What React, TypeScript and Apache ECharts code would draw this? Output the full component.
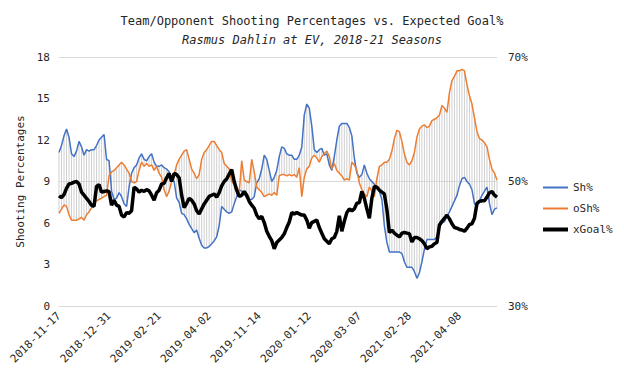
import React, { useEffect, useRef } from "react";
import * as echarts from "echarts";

const tickLabels = [
  "2018-11-17", "2018-12-31", "2019-02-21", "2019-04-02", "2019-11-14",
  "2020-01-12", "2020-03-07", "2021-02-28", "2021-04-08",
];
const labelEvery = 20;

const shPct = [
  11.1, 11.6, 12.3, 12.8, 12.2, 11.0, 10.8, 11.2, 11.9, 11.5,
  10.9, 11.3, 11.2, 11.3, 11.3, 11.6, 12.0, 12.2, 12.4, 10.6,
  10.5, 8.3, 7.7, 7.8, 8.2, 7.9, 7.4, 7.2, 8.6, 9.6,
  10.0, 10.2, 10.7, 11.0, 10.6, 10.5, 10.8, 11.0, 10.4, 10.1,
  10.1, 10.2, 10.0, 9.9, 9.7, 9.2, 9.0, 7.8, 7.5, 6.7,
  6.6, 6.3, 5.9, 5.6, 5.3, 5.5, 4.9, 4.4, 4.2, 4.2,
  4.3, 4.5, 4.7, 5.0, 5.8, 7.2, 7.0, 6.8, 6.7, 6.8,
  7.4, 7.9, 8.4, 8.3, 8.1, 7.8, 7.7, 7.7, 7.9, 8.9,
  9.2, 9.9, 10.9, 10.6, 9.8, 9.0, 9.3, 9.8, 10.8, 11.5,
  11.4, 11.0, 10.9, 10.9, 10.6, 10.6, 10.9, 11.5, 13.8, 14.6,
  14.3, 13.0, 11.3, 11.1, 11.3, 11.4, 10.9, 11.0, 10.2, 9.8,
  10.8, 12.0, 13.0, 13.2, 13.2, 13.2, 12.9, 12.3, 10.7, 9.6,
  9.3, 9.5, 10.2, 9.6, 9.2, 9.0, 8.8, 8.6, 8.3, 7.7,
  5.8, 4.6, 3.9, 3.9, 3.9, 3.9, 3.9, 3.8, 3.2, 2.8,
  2.8, 2.8, 2.5, 2.0, 2.4, 3.2, 4.1, 4.8, 4.8, 4.8,
  4.8, 5.0, 5.7, 6.0, 6.1, 6.5, 6.8, 7.2, 7.6, 8.0,
  8.7, 9.2, 9.3, 9.0, 8.8, 8.4, 7.4, 7.2, 7.6, 8.0,
  8.3, 8.6, 7.4, 6.6, 7.0, 7.1,
];

const oShPct = [
  6.7, 7.0, 7.3, 7.2, 6.6, 6.2, 6.2, 6.2, 6.3, 6.4,
  6.2, 6.6, 6.8, 7.1, 7.4, 7.6, 7.7, 7.8, 7.9, 8.0,
  9.4, 9.7, 9.8, 10.0, 10.2, 10.4, 10.2, 9.9, 9.6, 9.0,
  8.9, 9.0, 9.8, 10.4, 10.1, 10.3, 10.1, 10.2, 9.8, 10.1,
  9.6, 9.3, 8.4, 7.9, 8.3, 9.0, 9.5, 10.2, 10.6, 10.9,
  11.2, 11.3, 10.6, 9.9, 9.6, 9.2, 9.5, 10.6, 11.1, 11.3,
  11.6, 11.9, 11.9, 11.6, 11.3, 11.1, 10.3, 10.1, 9.9, 9.0,
  8.8, 8.6, 8.2, 10.5, 9.1, 9.0, 8.9, 10.6, 9.7, 8.6,
  8.4, 8.2, 7.9, 8.0, 8.1, 8.0, 8.2, 8.0, 9.4, 9.5,
  9.5, 9.4, 9.5, 9.4, 9.5, 9.3, 10.0, 7.9, 9.3, 9.9,
  10.1, 10.7, 10.9, 10.7, 10.4, 10.8, 11.0, 11.2, 10.8, 9.9,
  10.3, 9.8, 9.6, 9.4, 9.1, 9.2, 9.1, 10.4, 10.2, 9.8,
  8.9, 8.4, 8.1, 7.9, 8.6, 8.3, 7.9, 9.2, 10.1, 10.2,
  10.4, 10.4, 10.6, 11.2, 12.1, 12.7, 12.6, 11.9, 11.0, 10.4,
  10.2, 10.5, 11.1, 12.2, 12.8, 13.0, 13.1, 12.9, 13.0, 13.4,
  13.5, 13.6, 13.8, 14.5, 14.3, 14.0, 15.4, 16.3, 16.6, 17.0,
  17.0, 17.1, 17.0, 16.0, 15.2, 14.6, 13.6, 12.6, 12.1, 12.0,
  11.8, 11.5, 10.6, 9.9, 9.6, 9.1,
];

const xGoalPct = [
  47.7, 47.4, 47.9, 48.9, 49.6, 49.7, 49.9, 50.0, 49.6, 48.3,
  47.8, 47.3, 46.8, 46.2, 46.0, 49.2, 49.5, 48.3, 48.4, 48.5,
  48.4, 46.2, 47.0, 46.2, 46.0, 44.6, 44.3, 45.0, 44.9, 45.3,
  49.1, 48.8, 48.3, 48.6, 48.4, 48.7, 48.5, 47.8, 47.0, 48.2,
  48.6, 49.6, 49.7, 50.6, 51.3, 50.0, 51.3, 51.1, 50.6, 47.8,
  45.8, 46.5, 47.3, 47.0, 46.4, 45.3, 44.8, 45.6, 46.4, 47.0,
  47.6, 47.8, 48.0, 47.5, 48.2, 49.3, 50.0, 50.4, 51.2, 51.9,
  50.0, 48.6, 47.6, 47.8, 48.4, 47.8, 46.8, 46.2, 45.7, 44.6,
  44.0, 44.4, 43.4, 42.0, 41.2, 40.5, 39.2, 40.2, 40.6, 41.0,
  41.6, 42.6, 43.5, 45.0, 44.8, 45.0, 44.8, 44.6, 44.6, 43.8,
  42.5, 43.4, 43.6, 43.8, 42.6, 41.7, 40.8, 40.4, 40.0, 40.8,
  41.0, 42.0, 44.5, 42.0, 43.6, 45.0, 45.6, 45.3, 45.6, 46.5,
  46.6, 48.4, 47.3, 45.6, 44.1, 47.3, 49.2, 49.1, 48.6, 48.3,
  48.0, 45.5, 41.8, 42.2, 41.7, 41.4, 41.1, 41.7, 41.8, 41.7,
  41.6, 40.3, 41.0, 41.0, 40.8, 40.5, 40.0, 39.2, 39.5, 39.6,
  40.0, 40.2, 43.0, 43.6, 44.1, 44.6, 44.0, 43.2, 42.6, 42.5,
  42.3, 42.2, 42.0, 42.5, 43.1, 43.2, 44.1, 46.5, 46.8, 46.9,
  46.9, 47.5, 48.2, 48.4, 47.8, 47.5,
];

const FONT = "'DejaVu Sans Mono', monospace";
const BLUE = "#4472C4";
const ORANGE = "#ED7D31";
const BLACK = "#000000";

export default function App() {
  const ref = useRef<HTMLDivElement>(null);

  useEffect(() => {
    if (!ref.current) return;
    const chart = echarts.init(ref.current, undefined, { renderer: "svg" });
    const categories = shPct.map((_, i) => String(i + 1));
    const hiLow = shPct.map((v, i) => [i, v, oShPct[i]]);
    const thin = "path://M0,0 L25,0 L25,2 L0,2 Z";
    const thick = "path://M0,0 L25,0 L25,4 L0,4 Z";

    chart.setOption({
      animation: false,
      backgroundColor: "#ffffff",
      textStyle: { fontFamily: FONT },
      title: {
        text: "Team/Opponent Shooting Percentages vs. Expected Goal%",
        subtext: "Rasmus Dahlin at EV, 2018-21 Seasons",
        left: "center",
        top: 15,
        padding: 0,
        itemGap: 7,
        textStyle: { fontFamily: FONT, fontSize: 12, fontWeight: "normal", color: "#262626" },
        subtextStyle: { fontFamily: FONT, fontSize: 12, fontStyle: "italic", color: "#262626" },
      },
      legend: {
        data: [
          { name: "Sh%", icon: thin, itemStyle: { color: BLUE, borderWidth: 0 } },
          { name: "oSh%", icon: thin, itemStyle: { color: ORANGE, borderWidth: 0 } },
          { name: "xGoal%", icon: thick, itemStyle: { color: BLACK, borderWidth: 0 } },
        ],
        orient: "vertical",
        left: 543,
        top: 182,
        padding: 0,
        itemWidth: 25,
        itemHeight: 12,
        itemGap: 10,
        textStyle: { fontFamily: FONT, fontSize: 11, color: "#262626" },
      },
      grid: { left: 59, right: 127, top: 57, bottom: 72 },
      xAxis: {
        type: "category",
        data: categories,
        boundaryGap: false,
        axisLine: { show: false },
        axisTick: { show: false },
        splitLine: { show: false },
        axisLabel: {
          interval: labelEvery - 1,
          rotate: 45,
          margin: 8,
          fontFamily: FONT,
          fontSize: 11,
          color: "#262626",
          formatter: (_v: string, idx: number) =>
            idx % labelEvery === 0 ? tickLabels[idx / labelEvery] ?? "" : "",
        },
      },
      yAxis: [
        {
          type: "value",
          min: 0,
          max: 18,
          interval: 3,
          name: "Shooting Percentages",
          nameLocation: "middle",
          nameGap: 29,
          nameTextStyle: { fontFamily: FONT, fontSize: 11, color: "#262626" },
          axisLine: { show: false },
          axisTick: { show: false },
          splitLine: { show: false },
          axisLabel: { margin: 9, fontFamily: FONT, fontSize: 11, color: "#262626" },
        },
        {
          type: "value",
          min: 30,
          max: 70,
          interval: 20,
          position: "right",
          axisLine: { show: false },
          axisTick: { show: false },
          splitLine: { show: true, lineStyle: { color: "#d9d9d9", width: 1 } },
          axisLabel: {
            margin: 11,
            fontFamily: FONT,
            fontSize: 11,
            color: "#262626",
            formatter: "{value}%",
          },
        },
      ],
      series: [
        {
          name: "hilow",
          type: "custom",
          yAxisIndex: 0,
          data: hiLow,
          encode: { x: 0, y: [1, 2] },
          z: 1,
          silent: true,
          renderItem: (_params: any, api: any) => {
            const p1 = api.coord([api.value(0), api.value(1)]);
            const p2 = api.coord([api.value(0), api.value(2)]);
            return {
              type: "line",
              shape: { x1: p1[0], y1: p1[1], x2: p2[0], y2: p2[1] },
              style: { stroke: "#d0d0d0", lineWidth: 1 },
            };
          },
        },
        {
          name: "Sh%",
          type: "line",
          yAxisIndex: 0,
          data: shPct,
          symbol: "none",
          z: 3,
          lineStyle: { color: BLUE, width: 1.5 },
          itemStyle: { color: BLUE },
        },
        {
          name: "oSh%",
          type: "line",
          yAxisIndex: 0,
          data: oShPct,
          symbol: "none",
          z: 3,
          lineStyle: { color: ORANGE, width: 1.5 },
          itemStyle: { color: ORANGE },
        },
        {
          name: "xGoal%",
          type: "line",
          yAxisIndex: 1,
          data: xGoalPct,
          symbol: "none",
          z: 4,
          lineStyle: { color: BLACK, width: 3.5 },
          itemStyle: { color: BLACK },
        },
      ],
    });
    return () => chart.dispose();
  }, []);

  return (
    <div
      ref={ref}
      style={{ position: "absolute", left: 0, top: 0, width: 624, height: 378 }}
    />
  );
}
